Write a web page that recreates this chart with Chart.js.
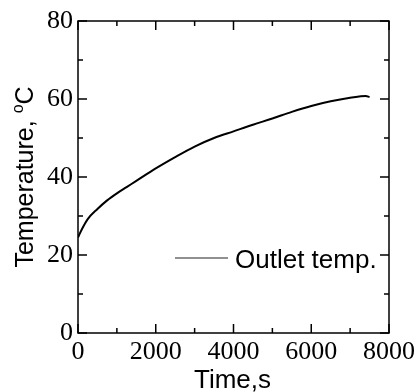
<!DOCTYPE html>
<html>
<head>
<meta charset="utf-8">
<script src="https://cdn.jsdelivr.net/npm/chart.js@4"></script>
<style>
  body { margin: 0; background: #fff; }
  #wrap { width: 419px; height: 392px; }
</style>
</head>
<body>
<div id="wrap"><canvas id="chart" width="419" height="392"></canvas></div>
<script>
// outlet temperature
const timeS = [0, 100, 250, 500, 750, 1000, 1250, 1500, 2000, 2500, 3000, 3500, 4000, 4500, 5000, 5500, 6000, 6500, 7000, 7400, 7500];
const outletTemp = [24.5, 26.6, 29.2, 31.8, 34.0, 35.8, 37.4, 39.0, 42.2, 45.1, 47.8, 50.0, 51.7, 53.4, 55.0, 56.7, 58.2, 59.4, 60.3, 60.8, 60.5];
const xTicks = [0, 2000, 4000, 6000, 8000];
const yTicks = [0, 20, 40, 60, 80];
const seriesLabel = 'Outlet temp.';

const serif = '"Liberation Serif", "Times New Roman", serif';
const sans = '"Liberation Sans", Arial, sans-serif';

// inward ticks on all four sides, box, titles, legend
const framePlugin = {
  id: 'frame',
  afterDraw(chart) {
    const ctx = chart.ctx;
    const a = chart.chartArea;
    const xs = chart.scales.x, ys = chart.scales.y;
    ctx.save();
    ctx.strokeStyle = '#000';
    ctx.lineWidth = 1.5;
    ctx.strokeRect(a.left, a.top, a.right - a.left, a.bottom - a.top);
    ctx.beginPath();
    for (let v = xs.min; v <= xs.max; v += 1000) {
      const px = xs.getPixelForValue(v);
      const len = xTicks.includes(v) ? 9 : 5;
      ctx.moveTo(px, a.bottom); ctx.lineTo(px, a.bottom - len);
      ctx.moveTo(px, a.top); ctx.lineTo(px, a.top + len);
    }
    for (let v = ys.min; v <= ys.max; v += 10) {
      const py = ys.getPixelForValue(v);
      const len = yTicks.includes(v) ? 9 : 5;
      ctx.moveTo(a.left, py); ctx.lineTo(a.left + len, py);
      ctx.moveTo(a.right, py); ctx.lineTo(a.right - len, py);
    }
    ctx.stroke();

    // x title
    ctx.fillStyle = '#000';
    ctx.font = '26px ' + sans;
    ctx.textAlign = 'center';
    ctx.textBaseline = 'alphabetic';
    ctx.fillText('Time,s', (a.left + a.right) / 2 - 1, 388);

    // y title with superscript o
    const t1 = 'Temperature, ', sup = 'o', t2 = 'C';
    ctx.font = '25px ' + sans;
    const w1 = ctx.measureText(t1).width, w3 = ctx.measureText(t2).width;
    ctx.font = '16px ' + sans;
    const w2 = ctx.measureText(sup).width;
    const total = w1 + w2 + w3;
    ctx.translate(33, (a.top + a.bottom) / 2);
    ctx.rotate(-Math.PI / 2);
    ctx.textAlign = 'left';
    let x0 = -total / 2;
    ctx.font = '25px ' + sans;
    ctx.fillText(t1, x0, 0);
    ctx.font = '16px ' + sans;
    ctx.fillText(sup, x0 + w1, -10);
    ctx.font = '25px ' + sans;
    ctx.fillText(t2, x0 + w1 + w2, 0);
    ctx.restore();

    // legend
    ctx.save();
    ctx.strokeStyle = '#222';
    ctx.lineWidth = 1.2;
    ctx.beginPath();
    ctx.moveTo(175, 258); ctx.lineTo(228, 258);
    ctx.stroke();
    ctx.fillStyle = '#000';
    ctx.font = '26px ' + sans;
    ctx.textAlign = 'left';
    ctx.textBaseline = 'alphabetic';
    ctx.fillText(chart.data.datasets[0].label, 235, 268);
    ctx.restore();
  }
};

new Chart(document.getElementById('chart'), {
  type: 'line',
  data: {
    datasets: [{
      label: seriesLabel,
      data: timeS.map((t, i) => ({ x: t, y: outletTemp[i] })),
      borderColor: '#000',
      borderWidth: 2,
      pointRadius: 0,
      cubicInterpolationMode: 'monotone',
      fill: false
    }]
  },
  options: {
    responsive: false,
    animation: false,
    layout: { padding: { left: 0, top: 21, right: 29, bottom: 0 } },
    plugins: { legend: { display: false }, tooltip: { enabled: false } },
    scales: {
      x: {
        type: 'linear',
        min: 0, max: 8000,
        grid: { display: false, drawTicks: false },
        border: { display: false },
        afterFit: s => { s.height = 59; },
        ticks: {
          stepSize: 1000,
          autoSkip: false,
          maxRotation: 0,
          padding: 4,
          color: '#000',
          font: { family: serif, size: 26 },
          callback: v => xTicks.includes(v) ? String(v) : ''
        }
      },
      y: {
        min: 0, max: 80,
        grid: { display: false, drawTicks: false },
        border: { display: false },
        afterFit: s => { s.width = 78; },
        ticks: {
          stepSize: 10,
          autoSkip: false,
          padding: 5,
          color: '#000',
          font: { family: serif, size: 26 },
          callback: v => yTicks.includes(v) ? String(v) : ''
        }
      }
    }
  },
  plugins: [framePlugin]
});
</script>
</body>
</html>
